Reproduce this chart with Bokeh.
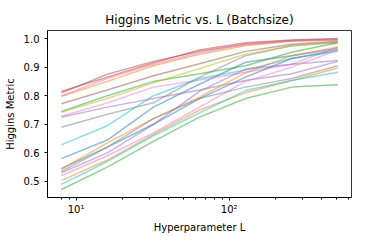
from bokeh.plotting import figure
from bokeh.models import FixedTicker, Range1d
from bokeh.embed import file_html
from bokeh.resources import INLINE

L = [8, 16, 32, 64, 128, 256, 512]

blue_a   = [0.580, 0.645, 0.760, 0.840, 0.917, 0.940, 0.965]
orange_a = [0.797, 0.850, 0.905, 0.945, 0.975, 0.990, 0.995]
green_a  = [0.745, 0.800, 0.850, 0.877, 0.905, 0.952, 0.985]
red_a    = [0.815, 0.865, 0.915, 0.960, 0.985, 0.995, 1.000]
purple_a = [0.725, 0.760, 0.790, 0.820, 0.853, 0.877, 0.920]
brown_a  = [0.810, 0.875, 0.920, 0.955, 0.980, 0.993, 0.997]
pink_a   = [0.728, 0.775, 0.830, 0.855, 0.882, 0.910, 0.970]
gray_a   = [0.690, 0.735, 0.775, 0.865, 0.940, 0.975, 0.985]
olive_a  = [0.742, 0.790, 0.845, 0.895, 0.945, 0.975, 0.988]
cyan_a   = [0.628, 0.695, 0.800, 0.860, 0.890, 0.930, 0.955]

blue_b   = [0.545, 0.620, 0.700, 0.790, 0.865, 0.930, 0.960]
orange_b = [0.503, 0.575, 0.665, 0.750, 0.810, 0.853, 0.897]
green_b  = [0.472, 0.550, 0.640, 0.725, 0.790, 0.830, 0.838]
pink_c   = [0.800, 0.860, 0.910, 0.950, 0.980, 0.992, 0.996]
purple_b = [0.530, 0.600, 0.700, 0.815, 0.893, 0.910, 0.923]
brown_b  = [0.772, 0.820, 0.870, 0.912, 0.955, 0.980, 0.990]
pink_b   = [0.520, 0.590, 0.670, 0.760, 0.850, 0.900, 0.960]
gray_b   = [0.535, 0.620, 0.720, 0.790, 0.830, 0.860, 0.905]
orange_c = [0.543, 0.635, 0.720, 0.795, 0.880, 0.940, 0.970]
cyan_b   = [0.490, 0.570, 0.660, 0.740, 0.818, 0.853, 0.882]

series = [blue_a, orange_a, green_a, red_a, purple_a, brown_a, pink_a, gray_a, olive_a, cyan_a,
          blue_b, orange_c, green_b, pink_c, purple_b, brown_b, pink_b, gray_b, orange_b, cyan_b]
series_colors = ["#1f77b4", "#ff7f0e", "#2ca02c", "#d62728", "#9467bd",
                 "#8c564b", "#e377c2", "#7f7f7f", "#bcbd22", "#17becf",
                 "#1f77b4", "#ff7f0e", "#2ca02c", "#e377c2", "#9467bd",
                 "#8c564b", "#e377c2", "#7f7f7f", "#ff7f0e", "#17becf"]

x_ticks = [10, 100]
y_ticks = [0.5, 0.6, 0.7, 0.8, 0.9, 1.0]
minor = [8, 9, 20, 30, 40, 50, 60, 70, 80, 90, 200, 300, 400, 500, 600]

p = figure(width=360, height=242, x_axis_type="log",
           x_range=Range1d(6.5, 630), y_range=Range1d(0.444, 1.028),
           output_backend="svg", toolbar_location=None,
           title="Higgins Metric vs. L (Batchsize)",
           min_border_left=47, min_border_right=9, min_border_top=30, min_border_bottom=45)

for s, c in zip(series, series_colors):
    p.line(L, s, line_color=c, line_alpha=0.5, line_width=1.5)

p.title.align = "center"
p.title.text_font = "DejaVu Sans"
p.title.text_font_size = "12px"
p.title.text_font_style = "normal"
p.title.text_color = "black"
p.title.standoff = 8

p.xgrid.visible = False
p.ygrid.visible = False
p.outline_line_color = "black"
p.outline_line_width = 0.8

p.xaxis.ticker = FixedTicker(ticks=x_ticks, minor_ticks=minor)
p.xaxis.major_label_overrides = {10: "10¹", 100: "10²"}
p.yaxis.ticker = FixedTicker(ticks=y_ticks)
p.yaxis.major_label_overrides = {v: f"{v:.1f}" for v in y_ticks}

for ax in (p.xaxis[0], p.yaxis[0]):
    ax.major_label_text_font = "DejaVu Sans"
    ax.major_label_text_font_size = "10px"
    ax.major_label_text_color = "black"
    ax.axis_label_text_font = "DejaVu Sans"
    ax.axis_label_text_font_size = "10px"
    ax.axis_label_text_font_style = "normal"
    ax.axis_label_text_color = "black"
    ax.major_tick_in = 0
    ax.major_tick_out = 3
    ax.minor_tick_in = 0
    ax.minor_tick_out = 2
    ax.axis_line_color = "black"
    ax.major_tick_line_color = "black"
    ax.minor_tick_line_color = "black"
p.yaxis.minor_tick_line_color = None
p.xaxis.major_label_standoff = 3
p.xaxis.axis_label_standoff = 4
p.xaxis.axis_label = "Hyperparameter L"
p.yaxis.axis_label = "Higgins Metric"

open("out.html", "w").write(file_html(p, INLINE))
